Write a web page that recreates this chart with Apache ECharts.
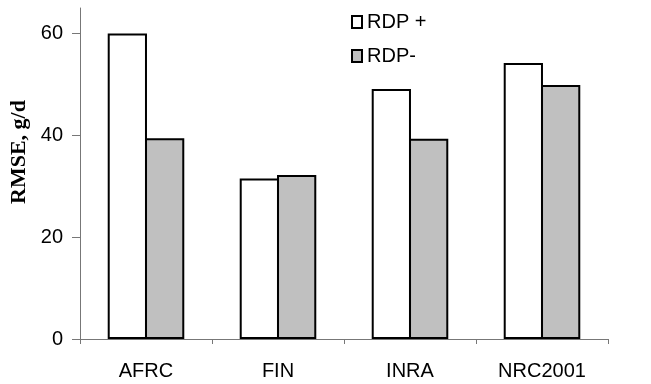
<!DOCTYPE html>
<html>
<head>
<meta charset="utf-8">
<script src="https://cdn.jsdelivr.net/npm/echarts@6/dist/echarts.min.js"></script>
<style>
  html, body { margin: 0; padding: 0; background: #fff; }
  #main { width: 651px; height: 384px; }
</style>
</head>
<body>
<div id="main"></div>
<script>
// RMSE 数据
const categories = ['AFRC', 'FIN', 'INRA', 'NRC2001']
const rdpPlus = [60, 31.5, 49.1, 54.2]
const rdpMinus = [39.4, 32.2, 39.3, 49.9]
const yTicks = [0, 20, 40, 60]

const chart = echarts.init(document.getElementById('main'))
const font = 'Liberation Sans, Arial, sans-serif'

var option = {
  animation: false,
  grid: {
    left: 80,
    right: 43,
    top: 8,
    bottom: 45
  },
  legend: {
    orient: 'vertical',
    left: 351,
    top: 12,
    padding: 0,
    itemWidth: 10,
    itemHeight: 12,
    itemGap: 14,
    icon: 'rect',
    textStyle: {
      fontFamily: font,
      fontSize: 20,
      color: '#000'
    },
    data: ['RDP +', 'RDP-']
  },
  xAxis: {
    type: 'category',
    data: categories,
    axisLine: {
      lineStyle: { color: '#777', width: 1 }
    },
    axisTick: {
      show: true,
      length: 5,
      lineStyle: { color: '#777' }
    },
    axisLabel: {
      margin: 22,
      fontFamily: font,
      fontSize: 20,
      color: '#000'
    }
  },
  yAxis: {
    type: 'value',
    min: 0,
    max: 65,
    interval: 20,
    splitLine: { show: false },
    axisLine: {
      show: true,
      lineStyle: { color: '#777', width: 1 }
    },
    axisTick: {
      show: true,
      length: 8,
      lineStyle: { color: '#777' },
      customValues: yTicks
    },
    axisLabel: {
      margin: 17,
      fontFamily: font,
      fontSize: 20,
      color: '#000',
      customValues: yTicks
    }
  },
  // 纵轴标题
  graphic: [{
    type: 'text',
    x: 19,
    y: 152,
    rotation: Math.PI / 2,
    style: {
      text: 'RMSE, g/d',
      fontFamily: 'Liberation Serif, Times New Roman, serif',
      fontWeight: 'bold',
      fontSize: 22,
      fill: '#000',
      align: 'center',
      verticalAlign: 'middle'
    }
  }],
  series: [{
    name: 'RDP +',
    type: 'bar',
    data: rdpPlus,
    itemStyle: {
      color: '#fff',
      borderColor: '#000',
      borderWidth: 2
    }
  }, {
    name: 'RDP-',
    type: 'bar',
    data: rdpMinus,
    barGap: '-5%',
    barCategoryGap: '42%',
    itemStyle: {
      color: '#c0c0c0',
      borderColor: '#000',
      borderWidth: 2
    }
  }]
}
chart.setOption(option)
</script>
</body>
</html>
